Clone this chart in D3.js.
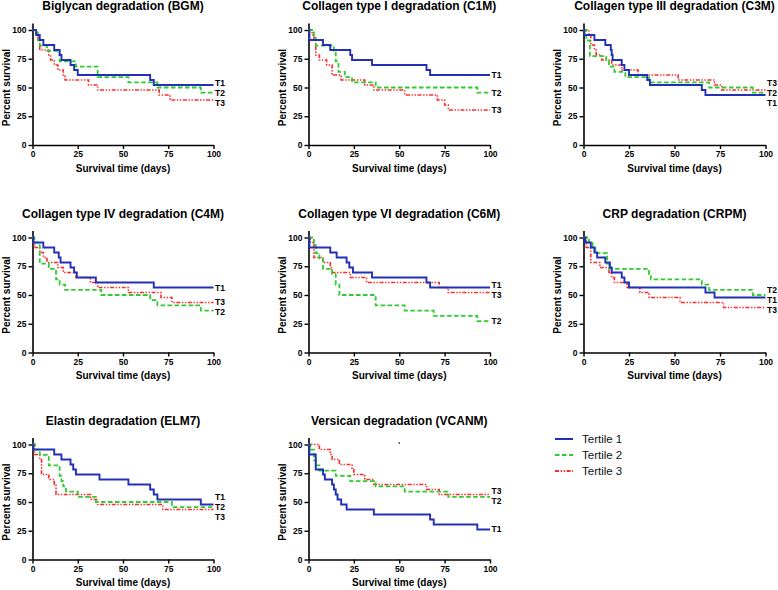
<!DOCTYPE html>
<html><head><meta charset="utf-8">
<script src="https://cdn.jsdelivr.net/npm/d3@7"></script>
<style>body{margin:0;background:#fff}svg{display:block}</style>
</head><body><svg id="c" width="778" height="590"></svg>
<script>
// ---------- data ----------
const titles = [
  "Biglycan degradation (BGM)",
  "Collagen type I degradation (C1M)",
  "Collagen type III degradation (C3M)",
  "Collagen type IV degradation (C4M)",
  "Collagen type VI degradation (C6M)",
  "CRP degradation (CRPM)",
  "Elastin degradation (ELM7)",
  "Versican degradation (VCANM)"
];
const xTicks = [0, 25, 50, 75, 100];
const yTicks = [0, 25, 50, 75, 100];
const xLabel = "Survival time (days)";
const yLabel = "Percent survival";
const seriesNames = ["Tertile 1", "Tertile 2", "Tertile 3"];
const shortNames = ["T1", "T2", "T3"];
const maxTime = 100;

// [time (days), percent survival] step points, one array per panel
const tertile1 = [
  [[0,100],[2,95.7],[4,91.3],[6,87],[12,82.6],[15,78.3],[16,73.9],[21,69.6],[23,65.2],[25,60.9],[65,56.5],[67,52.2]],
  [[0,100],[0.5,91.3],[8,87],[12,82.6],[23,78.3],[24,73.9],[35,69.6],[65,65.2],[67,60.9]],
  [[0,100],[0.5,95.7],[6,91.3],[12,87],[15,82.6],[15.5,78.3],[16,73.9],[21,69.6],[22.5,65.2],[25,60.9],[35,56.5],[36.5,52.2],[65,47.8],[67,43.5]],
  [[0,100],[0.5,95.7],[6,91.3],[12,87],[14.5,82.6],[15.5,78.3],[21,73.9],[23,69.6],[24.5,65.2],[35,60.9],[67,56.5]],
  [[0,100],[0.5,91.3],[12,87],[15.5,82.6],[21,78.3],[22.5,73.9],[24.5,69.6],[35,65.2],[65,60.9],[67,56.5]],
  [[0,100],[1,95.7],[4,91.3],[6,87],[7.5,82.6],[12,78.3],[14.5,73.9],[15.5,69.6],[21,65.2],[22.5,60.9],[25,56.5],[67,52.2],[72,47.8]],
  [[0,100],[0.5,95.7],[12,91.3],[16,87],[21,82.6],[22.5,78.3],[24,73.9],[37,69.6],[53,65.2],[65,60.9],[67,56.5],[69,52.2],[93,47.8]],
  [[0,100],[0.5,91.3],[4,78.3],[8,73.9],[9,69.6],[13,65.2],[14,60.9],[15,56.5],[16,52.2],[18,47.8],[21,43.5],[36,39.1],[67,34.8],[69,30.4],[93,26.1]]
];
const tertile2 = [
  [[0,100],[3,90.9],[4,86.4],[8,81.8],[15,72.7],[24,68.2],[36,59.1],[53,54.5],[69,50],[93,45.5]],
  [[0,100],[3,95.5],[4,86.4],[14,81.8],[15,72.7],[16.5,63.6],[20,59.1],[24,54.5],[37,50],[93,45.5]],
  [[0,100],[1.5,90.9],[3.5,77.3],[12.5,72.7],[14,68.2],[17,63.6],[23,59.1],[36,54.5],[69,50],[93,45.5]],
  [[0,100],[1,95.5],[4,77.3],[9,72.7],[13,63.6],[15,59.1],[18,54.5],[38,50],[65,45.5],[69,40.9],[93,36.4]],
  [[0,100],[3,95.5],[4,86.4],[6,81.8],[8,72.7],[13,68.2],[15,59.1],[17,50],[37,40.9],[53,36.4],[69,31.8],[93,27.3]],
  [[0,100],[3,95.5],[5,90.9],[6.5,86.4],[13,77.3],[14,72.7],[36,68.2],[37,63.6],[65,59.1],[69,54.5],[93,50]],
  [[0,100],[1.5,95.5],[4,90.9],[9,81.8],[15,72.7],[16,68.2],[17,63.6],[18.5,59.1],[25,54.5],[35,50],[77,45.5]],
  [[0,100],[1,95.5],[3,86.4],[4,81.8],[6,77.3],[15,72.7],[23,68.2],[37,63.6],[53,59.1],[77,54.5]]
];
const tertile3 = [
  [[0,100],[2,95.7],[3,91.3],[4,82.6],[9,78.3],[10,73.9],[12,69.6],[14,65.2],[17,60.9],[18,56.5],[31,52.2],[36,47.8],[70,43.5],[76,39.1]],
  [[0,100],[2,95.7],[3,91.3],[4,78.3],[6,73.9],[10,69.6],[13,60.9],[18,56.5],[31,52.2],[36,47.8],[53,43.5],[71,39.1],[75,34.8],[77,30.4]],
  [[0,100],[3,95.7],[4,87],[6,82.6],[7,78.3],[10,73.9],[15.5,69.6],[21,65.2],[30,60.9],[52,56.5],[72,52.2],[76,47.8]],
  [[0,100],[1,91.3],[4,87],[6,82.6],[8,78.3],[14,73.9],[17,69.6],[24,65.2],[32,60.9],[36,56.5],[53,52.2],[71,47.8],[77,43.5]],
  [[0,100],[1,95.7],[3,82.6],[8,78.3],[12,73.9],[13,69.6],[23,65.2],[32,60.9],[72,56.5],[77,52.2]],
  [[0,100],[1.5,91.3],[4,78.3],[9,73.9],[14,69.6],[15.5,65.2],[17,60.9],[24,56.5],[31,52.2],[36,47.8],[53,43.5],[77,39.1]],
  [[0,100],[1,91.3],[4,87],[5,73.9],[9,69.6],[12,65.2],[13,56.5],[32,52.2],[36,47.8],[72,43.5]],
  [[0,100],[6,95.7],[12,91.3],[13,87],[17,82.6],[24,78.3],[25,73.9],[31,69.6],[36,65.2],[65,60.9],[72,56.5]]
];
const strayDot = [50, 101.3]; // small mark in the Versican panel

// ---------- layout / style ----------
const colX = [[32.5, 213.5], [308.5, 490], [583.5, 765.5]];
const rowY = [[145, 30], [352.5, 237.5], [559.5, 444.5]];
const colors = ["#2230b8", "#2ecc2e", "#ff2b2b"];
const dashes = [null, "4.5,2.5", "4,1.6,1.4,1.6,1.4,1.6"];
const widths = [1.9, 1.8, 1.6];

const svg = d3.select("#c");
const allSeries = [tertile1, tertile2, tertile3];

titles.forEach((title, p) => {
  const col = p % 3, row = Math.floor(p / 3);
  const x = d3.scaleLinear().domain([0, 100]).range(colX[col]);
  const y = d3.scaleLinear().domain([0, 100]).range(rowY[row]);
  const g = svg.append("g");

  // title
  g.append("text").attr("x", (x(0) + x(100)) / 2).attr("y", y(100) - 24)
    .attr("dy", "0.35em").attr("text-anchor", "middle")
    .style("font", "bold 12px 'Liberation Sans', Arial, sans-serif").text(title);

  // axes
  const yAxScale = y.copy().domain([0, 106]).range([y(0), y(106)]);
  const yAx = g.append("g").attr("transform", `translate(${x(0)},0)`)
    .call(d3.axisLeft(yAxScale).tickValues(yTicks).tickSize(4).tickPadding(2).tickSizeOuter(0));
  const xAx = g.append("g").attr("transform", `translate(0,${y(0)})`)
    .call(d3.axisBottom(x).tickValues(xTicks).tickSize(4).tickPadding(2).tickSizeOuter(0));
  [yAx, xAx].forEach(a => {
    a.select(".domain").attr("stroke", "#000").attr("stroke-width", 1.6);
    a.selectAll(".tick line").attr("stroke", "#000").attr("stroke-width", 1.4);
    a.selectAll(".tick text").attr("fill", "#000")
      .style("font", "bold 8.5px 'Liberation Sans', Arial, sans-serif");
  });

  // axis labels
  g.append("text").attr("x", (x(0) + x(100)) / 2).attr("y", y(0) + 23)
    .attr("dy", "0.35em").attr("text-anchor", "middle")
    .style("font", "bold 10px 'Liberation Sans', Arial, sans-serif").text(xLabel);
  g.append("text").attr("transform", `translate(${x(0) - 26},${(y(0) + y(100)) / 2}) rotate(-90)`)
    .attr("dy", "0.35em").attr("text-anchor", "middle")
    .style("font", "bold 10px 'Liberation Sans', Arial, sans-serif").text(yLabel);

  // curves
  const line = d3.line().x(d => x(d[0])).y(d => y(d[1])).curve(d3.curveStepAfter);
  const labels = [];
  [2, 1, 0].forEach(s => {
    const pts = allSeries[s][p];
    const data = pts.concat([[maxTime, pts[pts.length - 1][1]]]);
    g.append("path").attr("d", line(data)).attr("fill", "none")
      .attr("stroke", colors[s]).attr("stroke-width", widths[s])
      .attr("stroke-dasharray", dashes[s]);
  });
  [0, 1, 2].forEach(s => {
    const pts = allSeries[s][p];
    labels.push({ s, ly: y(pts[pts.length - 1][1]) });
  });
  // spread labels to avoid overlap
  const sorted = labels.slice().sort((a, b) => a.ly - b.ly);
  for (let it = 0; it < 100; it++) {
    let moved = false;
    for (let i = 1; i < sorted.length; i++) {
      const d = sorted[i].ly - sorted[i - 1].ly;
      if (d < 10) { const m = (10 - d) / 2; sorted[i].ly += m; sorted[i - 1].ly -= m; moved = true; }
    }
    if (!moved) break;
  }
  labels.forEach(l => {
    g.append("text").attr("x", x(100) + 1.5).attr("y", l.ly).attr("dy", "0.35em")
      .style("font", "bold 8.5px 'Liberation Sans', Arial, sans-serif").text(shortNames[l.s]);
  });

  if (p === 7) {
    g.append("rect").attr("x", x(strayDot[0]) - 0.75).attr("y", y(strayDot[1]) - 0.75)
      .attr("width", 1.5).attr("height", 1.5).attr("fill", "#333");
  }
});

// legend
const lg = svg.append("g");
seriesNames.forEach((name, s) => {
  const yy = 439 + s * 16;
  lg.append("line").attr("x1", 555).attr("x2", 573).attr("y1", yy).attr("y2", yy)
    .attr("stroke", colors[s]).attr("stroke-width", 2).attr("stroke-dasharray", dashes[s]);
  lg.append("text").attr("x", 582).attr("y", yy).attr("dy", "0.35em")
    .style("font", "11.5px 'Liberation Sans', Arial, sans-serif").attr("fill", "#111").text(name);
});
</script></body></html>
